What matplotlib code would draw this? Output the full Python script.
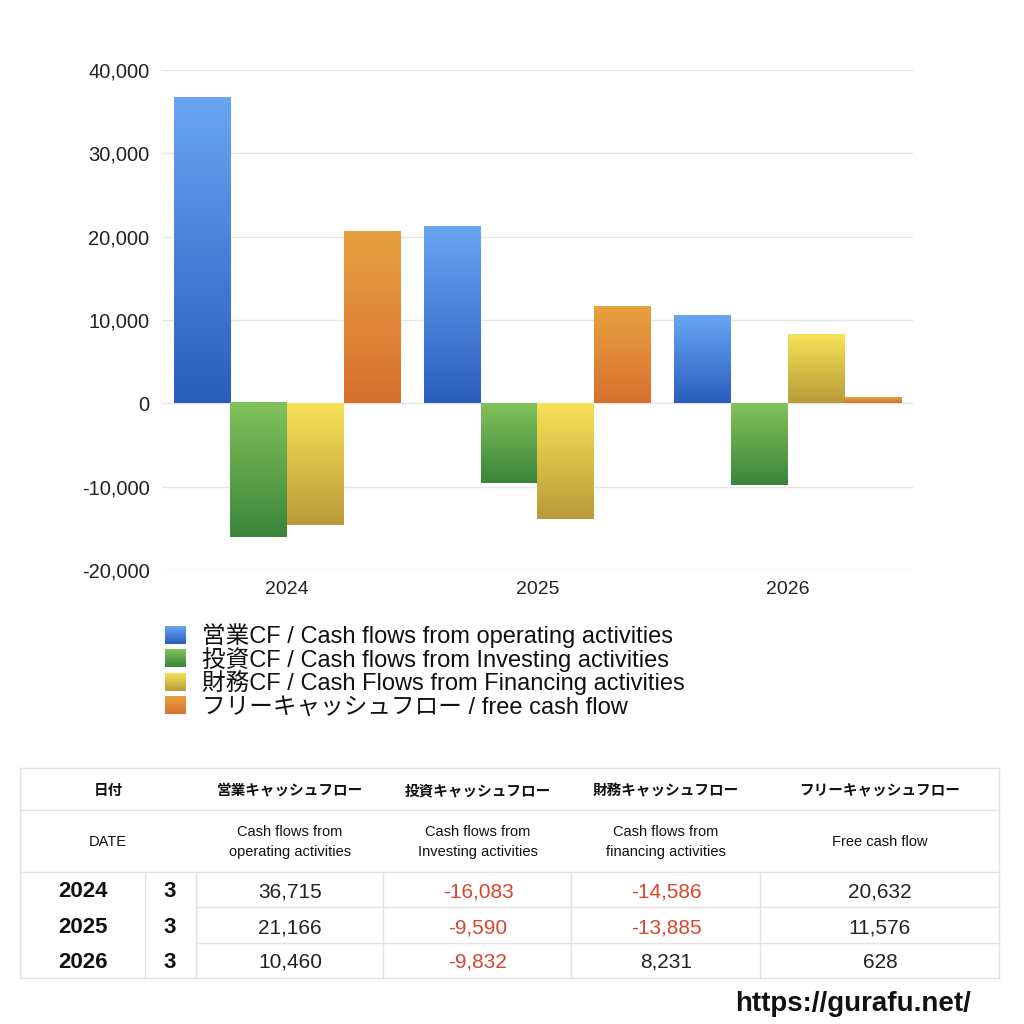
import numpy as np
import matplotlib
matplotlib.use('Agg')
import matplotlib.pyplot as plt
from matplotlib.colors import to_rgb

plt.rcParams['font.family'] = ['Liberation Sans', 'Noto Sans CJK JP', 'DejaVu Sans']
JP = ['Noto Sans CJK JP', 'DejaVu Sans']

# ---------------- data ----------------
years = ['2024', '2025', '2026']
months = ['3', '3', '3']
operating = [36715, 21166, 10460]
investing = [-16083, -9590, -9832]
financing = [-14586, -13885, 8231]
free_cf = [20632, 11576, 628]

series_labels = [
    '営業CF / Cash flows from operating activities',
    '投資CF / Cash flows from Investing activities',
    '財務CF / Cash Flows from Financing activities',
    'フリーキャッシュフロー / free cash flow',
]
header_jp = ['日付', '営業キャッシュフロー', '投資キャッシュフロー', '財務キャッシュフロー', 'フリーキャッシュフロー']
header_en = ['DATE', 'Cash flows from\noperating activities', 'Cash flows from\nInvesting activities',
             'Cash flows from\nfinancing activities', 'Free cash flow']
yticks = [-20000, -10000, 0, 10000, 20000, 30000, 40000]
footer = 'https://gurafu.net/'

# gradient colours (top, bottom)
grads = [('#68a6f3', '#2a5dbd'),
         ('#82c25a', '#3a853a'),
         ('#f6e257', '#b89b38'),
         ('#e8a13f', '#d8702f')]

def grad_img(top, bottom, n=128):
    t = np.linspace(0, 1, n)[:, None, None]
    a = np.array(to_rgb(top))[None, None, :]
    b = np.array(to_rgb(bottom))[None, None, :]
    return a * (1 - t) + b * t

fig = plt.figure(figsize=(10.24, 10.24), dpi=100)
ax = fig.add_axes([162/1024, 1 - 570/1024, (913-162)/1024, 500/1024])

series = [operating, investing, financing, free_cf]
x = np.arange(len(years))
w = 0.227
for i, vals in enumerate(series):
    offs = (i - 1.5) * w
    bars = ax.bar(x + offs, vals, width=w, color='none', edgecolor='none')
    img = grad_img(*grads[i])
    for p in bars.patches:
        x0 = p.get_x(); x1 = x0 + p.get_width()
        y0 = p.get_y(); y1 = y0 + p.get_height()
        lo, hi = min(y0, y1), max(y0, y1)
        ax.imshow(img, extent=(x0, x1, lo, hi), origin='upper', aspect='auto', zorder=2,
                  interpolation='bilinear')

ax.set_xlim(-0.5, len(years) - 0.5)
ax.set_ylim(-20000, 40000)
ax.set_yticks(yticks)
ax.set_yticklabels([f'{v:,}' for v in yticks], fontsize=14.5, color='#222222')
ax.set_xticks(x)
ax.set_xticklabels(years, fontsize=14, color='#222222')
ax.tick_params(length=0)
ax.tick_params(axis='y', pad=9)
ax.tick_params(axis='x', pad=8)
ax.grid(axis='y', color='#e6e6e6', linewidth=1)
ax.set_axisbelow(True)
for s in ax.spines.values():
    s.set_visible(False)

# overlay in pixel coordinates
ov = fig.add_axes([0, 0, 1, 1])
ov.set_xlim(0, 1024)
ov.set_ylim(1024, 0)
ov.axis('off')
ov.patch.set_visible(False)

# legend
for i, lab in enumerate(series_labels):
    base = 643 + 23.5 * i
    ov.imshow(grad_img(*grads[i]), extent=(165, 186, base + 1, base - 17), origin='upper',
              aspect='auto', interpolation='bilinear')
    ov.text(202, base, lab, fontsize=17, va='baseline', ha='left', color='#111111')
ov.set_xlim(0, 1024)
ov.set_ylim(1024, 0)

# table
lc = '#e3e3e3'
L, R = 20, 999
ov.plot([L, R], [768, 768], color=lc, lw=1)
ov.plot([L, R], [978, 978], color=lc, lw=1)
ov.plot([L, L], [768, 978], color=lc, lw=1)
ov.plot([R, R], [768, 978], color=lc, lw=1)
ov.plot([L, R], [810, 810], color=lc, lw=1)
ov.plot([L, R], [872, 872], color=lc, lw=1)
ov.plot([196, R], [907, 907], color=lc, lw=1)
ov.plot([196, R], [943, 943], color=lc, lw=1)
for vx in [145, 196, 383, 571, 760]:
    ov.plot([vx, vx], [872, 978], color=lc, lw=1)

col_cx = [108, 290, 478, 666, 880]
for cx, hj, he in zip(col_cx, header_jp, header_en):
    ov.text(cx, 790, hj, fontsize=10.5, fontweight='bold', ha='center', va='center', color='#111111',
            family=JP)
    ov.text(cx, 842, he, fontsize=10.5, ha='center', va='center', color='#111111',
            linespacing=1.5)

row_base = [897, 933, 968]
red = '#d9452e'
for r in range(len(years)):
    b = row_base[r]
    ov.text(83, b, years[r], fontsize=16, fontweight='bold', ha='center', va='baseline', color='#111111')
    ov.text(170, b, months[r], fontsize=16, fontweight='bold', ha='center', va='baseline', color='#111111')
    for cx, vals in zip(col_cx[1:], series):
        v = vals[r]
        ov.text(cx, b, f'{v:,}', fontsize=15, ha='center', va='baseline',
                color=red if v < 0 else '#222222')

ov.text(853, 1004, footer, fontsize=20, fontweight='bold', ha='center', va='center', color='#111111')

fig.savefig('out.png', dpi=100, facecolor='white')
